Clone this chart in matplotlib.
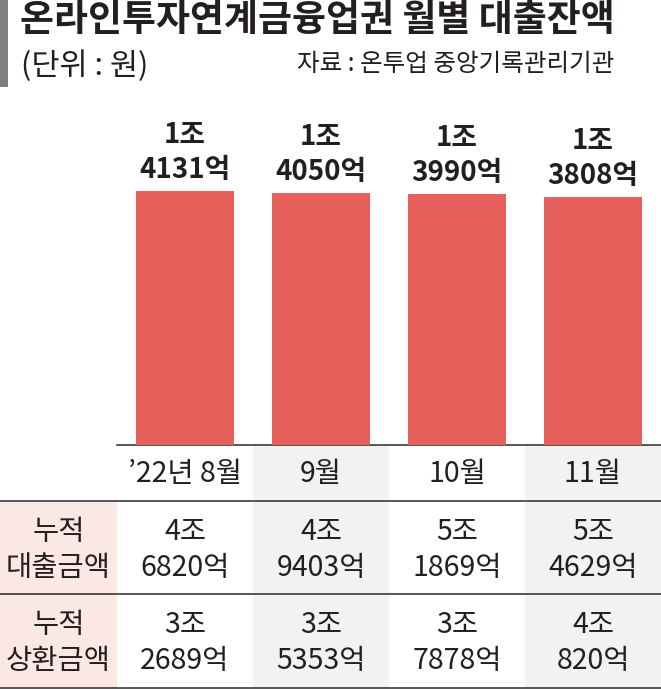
import matplotlib
matplotlib.use("Agg")
import matplotlib.pyplot as plt
from matplotlib.patches import Rectangle

plt.rcParams['font.family'] = ['Noto Sans CJK KR', 'DejaVu Sans']

# ---- data (units: 억원) ----
title = "온라인투자연계금융업권 월별 대출잔액"
unit_text = "(단위 : 원)"
source_text = "자료 : 온투업 중앙기록관리기관"
months = ["’22년 8월", "9월", "10월", "11월"]
balance = [14131, 14050, 13990, 13808]
loan_cum = [46820, 49403, 51869, 54629]
repay_cum = [32689, 35353, 37878, 40820]
row_headers = [["누적", "대출금액"], ["누적", "상환금액"]]

W, H = 661, 690
BAR_COLOR = "#E8605B"
GRAY_COL = "#F2F2F2"
PINK_COL = "#FBE7E4"
LINE_COL = "#3A3A3A"
TXT = "#231F20"
TFS = 20.5  # table font size

fig = plt.figure(figsize=(W / 100, H / 100), dpi=100)

# background / table axes in pixel coordinates
bg = fig.add_axes([0, 0, 1, 1])
bg.set_xlim(0, W)
bg.set_ylim(H, 0)
bg.axis("off")

# layout constants
x0 = 117           # left edge of data columns
colw = (W - x0) / 4
y_axis = 445
y_r1 = 501
y_r2 = 594
y_r3 = 688

# left gray marker
bg.add_patch(Rectangle((0, 0), 8, 87, color="#7F7F7F", lw=0))

bg.text(20, 20, title, fontsize=26.6, fontweight=900, color=TXT,
        ha="left", va="center")
bg.text(21, 66, unit_text, fontsize=22, color=TXT, ha="left", va="center")
bg.text(614, 64, source_text, fontsize=17.7, color=TXT, ha="right", va="center")

# table backgrounds
for i in range(4):
    if i % 2 == 1:
        bg.add_patch(Rectangle((x0 + i * colw, y_axis), colw, y_r3 - y_axis,
                               color=GRAY_COL, lw=0, zorder=0))
bg.add_patch(Rectangle((0, y_r1), x0, y_r3 - y_r1, color=PINK_COL, lw=0, zorder=0))

# lines
bg.plot([x0, W], [y_axis, y_axis], color=LINE_COL, lw=1.2, zorder=3)
for yy in (y_r1, y_r2, y_r3):
    bg.plot([0, W], [yy, yy], color=LINE_COL, lw=1.2, zorder=3)

# month labels
for i, m in enumerate(months):
    bg.text(x0 + (i + 0.5) * colw, (y_axis + y_r1) / 2 + 1, m, fontsize=TFS,
            color=TXT, ha="center", va="center")

# table rows
def fmt(v):
    return f"{v // 10000}조", f"{v % 10000}억"

for r, (vals, (top, bot)) in enumerate(zip([loan_cum, repay_cum],
                                          [(y_r1, y_r2), (y_r2, y_r3)])):
    l1 = top + 31
    l2 = top + 67
    bg.text(x0 / 2, l1, row_headers[r][0], fontsize=TFS, color=TXT,
            ha="center", va="center")
    bg.text(x0 / 2, l2, row_headers[r][1], fontsize=TFS, color=TXT,
            ha="center", va="center")
    for i, v in enumerate(vals):
        a, b = fmt(v)
        cx = x0 + (i + 0.5) * colw
        bg.text(cx, l1, a, fontsize=TFS, color=TXT, ha="center", va="center")
        bg.text(cx, l2, b, fontsize=TFS, color=TXT, ha="center", va="center")

# bar axes
ax = fig.add_axes([x0 / W, (H - y_axis) / H, (W - x0) / W, 345 / H])
ax.set_xlim(-0.5, 3.5)
ax.set_ylim(0, 19200)
ax.patch.set_alpha(0)
ax.axis("off")
xs = list(range(len(balance)))
ax.bar(xs, balance, width=0.715, color=BAR_COLOR, lw=0)
for x, v in zip(xs, balance):
    a, b = fmt(v)
    ax.annotate(b, (x, v), xytext=(0, 21), textcoords="offset pixels",
                ha="center", va="center", fontsize=20, fontweight="bold", color=TXT)
    ax.annotate(a, (x, v), xytext=(0, 56), textcoords="offset pixels",
                ha="center", va="center", fontsize=20, fontweight="bold", color=TXT)

fig.savefig("out.png", dpi=100)
